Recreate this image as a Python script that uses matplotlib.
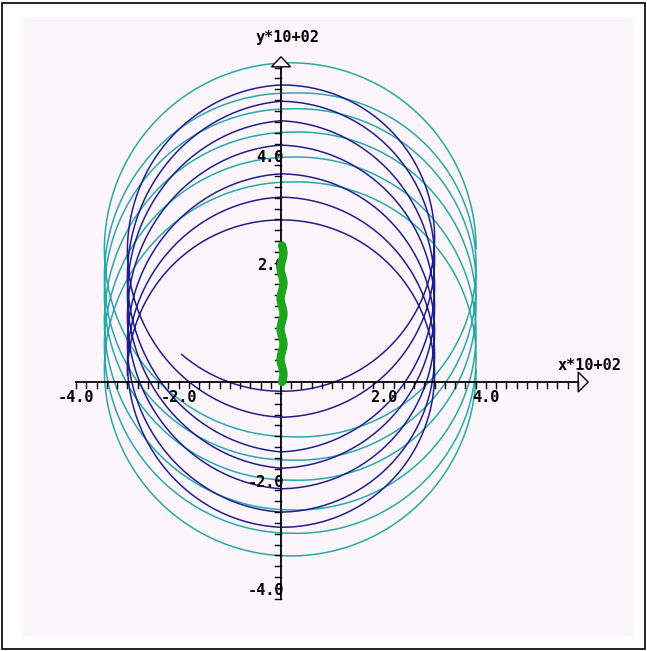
import numpy as np
import matplotlib
matplotlib.use("Agg")
import matplotlib.pyplot as plt
from matplotlib.patches import Rectangle, Polygon

# ---- data (units of 10^2) ----
# heights where each loop of the inner orbit crosses the y axis
blue_top_y = [5.48, 5.18, 4.82, 4.37, 3.84, 3.41, 2.99]
blue_bottom_y = [-0.17, -0.65, -1.29, -1.59, -1.97, -2.40, -2.68]
blue_radius = (3.0, 2.86)          # (x, y) half-widths of a loop
blue_center_x = 0.0

# heights where each loop of the outer orbit crosses the y axis
cyan_top_y = [5.89, 5.33, 5.04, 4.61, 4.15, 3.69]
cyan_bottom_y = [-1.01, -1.44, -1.81, -2.36, -2.79, -3.21]
cyan_radius = (3.63, 3.43)
cyan_center_x = 0.18

# path of the central body
green_x = [0.02, 0.04, 0.05, 0.04, 0.02, 0.00, -0.01, 0.00,
           0.02, 0.04, 0.05, 0.04, 0.02, 0.00, -0.01, 0.00,
           0.02, 0.04, 0.05, 0.04, 0.02, 0.00, -0.01, 0.00,
           0.02, 0.04, 0.05, 0.04, 0.02, 0.00, -0.01, 0.00,
           0.02, 0.04, 0.05, 0.04, 0.02]
green_y = [0.00, 0.07, 0.14, 0.21, 0.28, 0.35, 0.42, 0.49,
           0.56, 0.63, 0.70, 0.77, 0.84, 0.91, 0.98, 1.05,
           1.12, 1.19, 1.26, 1.33, 1.40, 1.47, 1.54, 1.61,
           1.68, 1.75, 1.82, 1.89, 1.96, 2.03, 2.10, 2.17,
           2.24, 2.31, 2.38, 2.45, 2.52]

x_tick_labels = ["-4.0", "-2.0", "2.0", "4.0"]
y_tick_labels = ["-4.0", "-2.0", "2.0", "4.0"]
x_title = "x*10+02"
y_title = "y*10+02"

BG = "#fcf6fc"
BLUE = "#1f1f8c"
CYAN = "#2aa8a8"
GREEN = "#1ea51e"

# ---- figure geometry: pixel mapping of the data frame ----
W, H = 647, 651
X0, Y0 = 281.0, 382.0      # pixel position of the origin
SX, SY = 51.2, 54.2        # pixels per unit

fig = plt.figure(figsize=(W / 100, H / 100), dpi=100, facecolor="white")
fig.patches.append(Rectangle((23 / W, 1 - 637 / H), 610 / W, 620 / H,
                             transform=fig.transFigure, facecolor=BG,
                             edgecolor="none", zorder=-2))
fig.patches.append(Rectangle((2 / W, 1 - 649 / H), 643 / W, 646 / H,
                             transform=fig.transFigure, fill=False,
                             edgecolor="black", lw=1.2, zorder=-1))

ax = fig.add_axes([0, 0, 1, 1])
ax.set_zorder(1)
ax.set_xlim(-X0 / SX, (W - X0) / SX)
ax.set_ylim((Y0 - H) / SY, Y0 / SY)
ax.axis("off")
ax.patch.set_visible(False)


def orbit(tops, bottoms, xc, radius, top_first, t_start, t_end):
    """Loops whose centre drifts between the measured axis crossings."""
    rx, ry = radius
    ang, cen = [], []
    for k in range(len(tops)):
        if top_first:
            ang += [90 + 360 * k, 270 + 360 * k]
            cen += [tops[k] - ry, bottoms[k] + ry]
        else:
            ang += [270 + 360 * k, 450 + 360 * k]
            cen += [bottoms[k] + ry, tops[k] - ry]
    t = np.linspace(t_start, t_end, 4000)
    c = np.interp(t, ang, cen)
    r = np.radians(t)
    return xc + rx * np.cos(r), c + ry * np.sin(r)


cx, cy = orbit(cyan_top_y, cyan_bottom_y, cyan_center_x, cyan_radius,
               True, 0, 2160)
bx, by = orbit(blue_top_y, blue_bottom_y, blue_center_x, blue_radius,
               False, 229.7, 2700)
ax.plot(cx, cy, color=CYAN, lw=1.1, zorder=2)
ax.plot(bx, by, color=BLUE, lw=1.1, zorder=3)

# ---- axes with arrow heads and ticks ----
ax_lw = 1.3
ax.plot([-4, 6 - 10 / SX], [0, 0], color="black", lw=ax_lw, zorder=4)
ax.plot([0, 0], [-4, 6 - 10 / SY], color="black", lw=ax_lw, zorder=4)
ax.add_patch(Polygon([(6, 0), (6 - 10 / SX, 10 / SY), (6 - 10 / SX, -10 / SY)],
                     closed=True, facecolor=BG, edgecolor="black", lw=1.0,
                     zorder=4))
ax.add_patch(Polygon([(0, 6), (-9.5 / SX, 6 - 10 / SY), (9.5 / SX, 6 - 10 / SY)],
                     closed=True, facecolor=BG, edgecolor="black", lw=1.0,
                     zorder=4))

ticks = np.round(np.arange(-4, 5.81, 0.2), 1)
tl = 6.0
for t in ticks:
    if abs(t) < 1e-9:
        continue
    ax.plot([t, t], [0, -tl / SY], color="black", lw=1.0, zorder=4)
    ax.plot([0, -tl / SX], [t, t], color="black", lw=1.0, zorder=4)

font = dict(family="DejaVu Sans Mono", weight="bold", size=11, color="black")
for lab in x_tick_labels:
    v = float(lab)
    ax.text(v, -15 / SY, lab, ha="center", va="center", zorder=6, **font)
for lab in y_tick_labels:
    v = float(lab)
    ax.text(3 / SX, v + 8 / SY, lab, ha="right", va="center", zorder=6, **font)

ax.text(6 / SX, (Y0 - 37) / SY, y_title, ha="center", va="center", zorder=6, **font)
ax.text(309 / SX, 17 / SY, x_title, ha="center", va="center", zorder=6, **font)

# central body drawn last, above the axis
ax.plot(green_x, green_y, color=GREEN, lw=6.0, solid_capstyle="round",
        solid_joinstyle="round", zorder=7)

fig.savefig("out.png", dpi=100, facecolor="white")
